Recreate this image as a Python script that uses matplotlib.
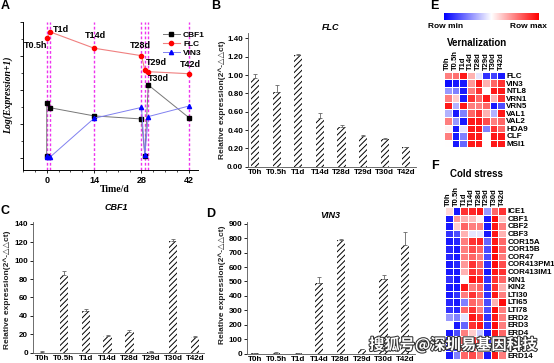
import numpy as np
import matplotlib
matplotlib.use('Agg')
import matplotlib.pyplot as plt
from matplotlib.colors import LinearSegmentedColormap
from matplotlib.lines import Line2D
from matplotlib.ticker import MultipleLocator
import matplotlib.patheffects as pe

plt.rcParams['font.family'] = ['Liberation Sans', 'DejaVu Sans']
plt.rcParams['font.weight'] = 'bold'
plt.rcParams['hatch.linewidth'] = 0.7

# ---- panel A data (log expression, arbitrary scale) ----
a_cbf1_x = [0, 0.02, 1, 14, 28, 29, 30, 42]
a_cbf1_y = [0.06, 1.63, 1.48, 1.24, 1.15, 0.07, 2.15, 1.19]
a_flc_x = [0, 1, 14, 28, 29, 30, 42]
a_flc_y = [3.52, 3.71, 3.23, 3.01, 2.59, 2.54, 2.48]
a_vin3_x = [0, 0.02, 1, 14, 28, 29, 30, 42]
a_vin3_y = [0.03, 0.05, 0.03, 1.17, 1.49, 0.09, 1.22, 1.53]
a_vlines = [0, 1, 14, 28, 29, 30, 42]
a_tp_labels = ['T0.5h', 'T1d', 'T14d', 'T28d', 'T29d', 'T30d', 'T42d']

# ---- bar panels ----
timepoints = ['T0h', 'T0.5h', 'T1d', 'T14d', 'T28d', 'T29d', 'T30d', 'T42d']
flc_vals = [0.97, 0.82, 1.22, 0.53, 0.43, 0.34, 0.30, 0.21]
flc_err = [0.04, 0.07, 0.01, 0.06, 0.03, 0.01, 0.01, 0.01]
cbf1_vals = [1, 84, 45, 18, 23, 1, 121, 17]
cbf1_err = [0.5, 5, 2, 1.5, 1.5, 0.5, 2, 1]
vin3_vals = [5, 8, 3, 490, 784, 30, 518, 754]
vin3_err = [2, 3, 1, 40, 10, 2, 28, 86]

# ---- heatmaps ----
hm_cols = timepoints
vern_genes = ['FLC', 'VIN3', 'NTL8', 'VRN1', 'VRN5', 'VAL1', 'VAL2', 'HDA9', 'CLF', 'MSI1']
vern_vals = [
    [0.5, 0.55, 0.9, 0.3, -0.1, -0.8, -0.75, -0.9],
    [-0.95, -0.9, -0.9, 0.4, 0.9, 0.3, 0.6, 0.8],
    [-0.4, -0.5, -0.9, 0.5, 0.8, 0.0, 0.9, 0.9],
    [0.5, 0.2, -0.9, 0.8, 0.6, 0.9, 0.3, 0.8],
    [0.9, -0.3, 0.9, 0.5, 0.5, 0.6, -0.9, -0.7],
    [-0.3, -0.9, -0.5, 0.6, 0.8, 0.3, -0.3, 0.9],
    [0.5, -0.4, -0.9, 0.9, 0.9, 0.7, 0.5, 0.6],
    [0.05, -0.9, -0.1, 0.9, 0.9, -0.5, 0.8, 0.6],
    [0.5, -0.9, -0.5, 0.9, 0.9, 0.0, 0.9, 0.9],
    [0.0, -0.9, -0.6, 0.9, 0.9, 0.0, 0.9, 0.9],
]
cold_genes = ['ICE1', 'CBF1', 'CBF2', 'CBF3', 'COR15A', 'COR15B', 'COR47', 'COR413PM1',
              'COR413IM1', 'KIN1', 'KIN2', 'LTI30', 'LTI65', 'LTI78', 'ERD2', 'ERD3',
              'ERD4', 'ERD7', 'ERD10', 'ERD14']
cold_vals = [
    [0.15, -0.9, 0.8, 0.85, 0.9, -0.4, 0.6, 0.8],
    [-0.9, 0.4, 0.3, 0.25, 0.05, -0.9, 0.95, 0.2],
    [-0.9, 0.2, 0.6, 0.5, 0.5, -0.9, 0.9, 0.5],
    [-0.8, -0.7, 0.3, -0.1, -0.1, -0.9, 0.9, 0.3],
    [-0.9, -0.85, 0.5, 0.8, 0.85, -0.6, 0.9, 0.6],
    [-0.85, -0.9, 0.5, 0.7, 0.6, -0.7, 0.95, 0.6],
    [-0.85, -0.9, 0.5, 0.6, 0.5, -0.7, 0.95, 0.5],
    [-0.9, -0.85, 0.4, 0.8, 0.6, -0.8, 0.95, 0.7],
    [-0.9, -0.9, 0.3, 0.8, 0.7, -0.9, 0.9, 0.8],
    [-0.8, -0.9, 0.0, 0.9, 0.85, -0.8, 0.8, 0.6],
    [-0.9, -0.9, 0.9, 0.5, 0.6, -0.8, 0.8, 0.3],
    [-0.9, -0.8, 0.5, 0.8, 0.6, -0.8, 0.9, 0.5],
    [-0.85, -0.9, -0.5, 0.6, 0.5, -0.7, 0.3, 0.95],
    [-0.8, -0.85, 0.6, 0.8, 0.5, -0.7, 0.95, 0.5],
    [-0.4, -0.5, -0.1, 0.9, 0.8, -0.8, 0.9, 0.5],
    [0.0, -0.9, -0.6, 0.8, 0.9, -0.8, 0.95, 0.5],
    [-0.9, -0.7, 0.5, 0.2, -0.2, -0.9, 0.9, 0.6],
    [-0.9, -0.4, 0.6, 0.8, 0.7, -0.8, 0.9, 0.5],
    [-0.9, -0.8, 0.7, 0.5, 0.6, -0.9, 0.8, 0.4],
    [-0.9, -0.5, 0.6, 0.7, 0.5, -0.9, 0.9, 0.5],
]

W, H = 554, 363
fig = plt.figure(figsize=(W / 100, H / 100), dpi=100)


def rect(l, t, r, b):
    return [l / W, 1 - b / H, (r - l) / W, (b - t) / H]


def ftext(x, y, s, **kw):
    fig.text(x / W, 1 - y / H, s, ha='center', va='center', **kw)


# ================= A =================
ax = fig.add_axes(rect(23, 22, 198, 170))
for v in a_vlines:
    ax.axvline(v, color='#ee33ee', ls=(0, (2, 1.5)), lw=1.0, zorder=1)
ax.plot(a_cbf1_x, a_cbf1_y, color='#777777', lw=0.7, marker='s', ms=2.6,
        mfc='black', mec='black', zorder=3)
ax.plot(a_flc_x, a_flc_y, color='#f08080', lw=0.8, marker='o', ms=3,
        mfc='red', mec='red', zorder=3)
ax.plot(a_vin3_x, a_vin3_y, color='#8080f0', lw=0.7, marker='^', ms=3,
        mfc='blue', mec='blue', zorder=3)
tp_pos = [(-3.3, 3.32), (4.1, 3.78), (14.5, 3.6), (27.8, 3.32), (32.5, 2.82),
          (33.0, 2.35), (42.3, 2.76)]
for lab, (x, y) in zip(a_tp_labels, tp_pos):
    ax.text(x, y, lab, ha='center', va='center', fontsize=6.5, fontweight='bold')
ax.set_xlim(-7, 44.7)
ax.set_ylim(-0.35, 4.0)
ax.set_xticks([0, 14, 28, 42])
ax.xaxis.set_minor_locator(MultipleLocator(3.5))
ax.yaxis.set_major_locator(MultipleLocator(1))
ax.yaxis.set_minor_locator(MultipleLocator(0.5))
ax.set_yticklabels([])
ax.tick_params(labelsize=6.5, length=2.5, width=0.6, pad=2)
ax.tick_params(which='minor', length=1.5, width=0.5)
for s in ['top', 'right']:
    ax.spines[s].set_visible(False)
for s in ['left', 'bottom']:
    ax.spines[s].set_linewidth(0.7)
handles = [Line2D([], [], color='#777777', lw=0.7, marker='s', ms=2.6, mfc='black', mec='black'),
           Line2D([], [], color='#f08080', lw=0.8, marker='o', ms=3, mfc='red', mec='red'),
           Line2D([], [], color='#8080f0', lw=0.7, marker='^', ms=3, mfc='blue', mec='blue')]
fig.legend(handles, ['CBF1', 'FLC', 'VIN3'], loc='upper left',
           bbox_to_anchor=(158 / W, 1 - 26 / H), frameon=False, fontsize=6,
           handlelength=2.0, handletextpad=0.4, labelspacing=0.15, borderpad=0.1)
ftext(8, 95, 'Log(Expression+1)', rotation=90, fontsize=7, family='Liberation Serif',
      style='italic', fontweight='bold')
ftext(115, 189, 'Time/d', fontsize=7, family='Liberation Serif', fontweight='bold')


# ================= bars =================
def bar_panel(box, vals, err, ylim, step, fmt, xlim):
    b = fig.add_axes(rect(*box))
    x = np.arange(len(timepoints))
    b.bar(x, vals, width=0.38, color='white', edgecolor='black', hatch='//////',
          linewidth=0, zorder=2)
    b.errorbar(x, vals, yerr=[np.zeros(len(vals)), err], fmt='none',
               ecolor='#666666', elinewidth=0.6, capsize=1.3, capthick=0.6, zorder=3)
    b.set_xlim(*xlim)
    b.set_ylim(*ylim)
    b.set_xticks(x)
    b.set_xticklabels(timepoints)
    b.yaxis.set_major_locator(MultipleLocator(step))
    b.yaxis.set_major_formatter(plt.FormatStrFormatter(fmt))
    b.tick_params(axis='x', length=0, labelsize=5.8, pad=2)
    b.tick_params(axis='y', length=2, width=0.6, labelsize=5.8, pad=1.5)
    for s in ['top', 'right']:
        b.spines[s].set_visible(False)
    b.spines['left'].set_color('#555555')
    b.spines['bottom'].set_color('#555555')
    b.spines['left'].set_linewidth(0.6)
    b.spines['bottom'].set_linewidth(0.6)
    return b


bar_panel((248, 33, 416, 166.7), flc_vals, flc_err, (0, 1.46), 0.2, '%.2f', (-0.33, 7.45))
bar_panel((33, 222, 204, 352.7), cbf1_vals, cbf1_err, (0, 142), 20, '%d', (-0.41, 7.41))
bar_panel((247, 222, 415, 353.7), vin3_vals, vin3_err, (0, 912), 100, '%d', (-0.37, 7.47))

ylab = 'Relative expression(2^-\u25b3\u25b3ct)'
ftext(222, 100, ylab, rotation=90, fontsize=6, color='#222222')
ftext(7, 290, ylab, rotation=90, fontsize=6, color='#222222')
ftext(222, 285, ylab, rotation=90, fontsize=6, color='#222222')
ftext(331, 27, 'FLC', fontsize=6.5, style='italic')
ftext(116, 208, 'CBF1', fontsize=6.5, style='italic')
ftext(330, 215, 'VIN3', fontsize=6.5, style='italic')

# ================= heatmaps =================
cmap = LinearSegmentedColormap.from_list('bwr2', ['#0000ff', '#ffffff', '#ff0000'])


def heat(box, genes, vals):
    h = fig.add_axes(rect(*box))
    h.pcolormesh(np.array(vals), cmap=cmap, vmin=-1, vmax=1,
                 edgecolors='white', linewidth=0.4)
    h.set_xlim(0, len(hm_cols))
    h.set_ylim(len(genes), 0)
    h.set_xticks(np.arange(len(hm_cols)) + 0.5)
    h.set_xticklabels(hm_cols, rotation=90, fontsize=5.5)
    h.set_yticks(np.arange(len(genes)) + 0.5)
    h.set_yticklabels(genes, fontsize=5.8)
    h.xaxis.tick_top()
    h.yaxis.tick_right()
    h.tick_params(length=0, pad=1)
    for s in h.spines.values():
        s.set_visible(False)
    return h


heat((444, 71.7, 505, 147.3), vern_genes, vern_vals)
heat((445, 207, 506, 207 + 7.6 * len(cold_genes)), cold_genes, cold_vals)

cb = fig.add_axes(rect(444, 13, 539, 20))
cb.imshow(np.linspace(-1, 1, 256)[None, :], aspect='auto', cmap=cmap, vmin=-1, vmax=1)
cb.set_axis_off()
ftext(446, 26.5, 'Row min', fontsize=6)
ftext(528, 26.5, 'Row max', fontsize=6)
ftext(477, 43, 'Vernalization', fontsize=7)
ftext(476, 174, 'Cold stress', fontsize=7)

# panel letters
for lab, (x, y) in zip('ABCDEF', [(5, 6), (216, 6), (5, 211), (211, 214), (434, 6), (435, 166)]):
    ftext(x, y, lab, fontsize=9, fontweight='bold')

# watermark
fig.text(453 / W, 1 - 345 / H, '搜狐号@深圳易基因科技', ha='center', va='center',
         fontsize=11, color='white', family=['Noto Sans CJK SC', 'DejaVu Sans'],
         path_effects=[pe.withStroke(linewidth=1.5, foreground='#333333')])

fig.savefig('out.png', dpi=100)
